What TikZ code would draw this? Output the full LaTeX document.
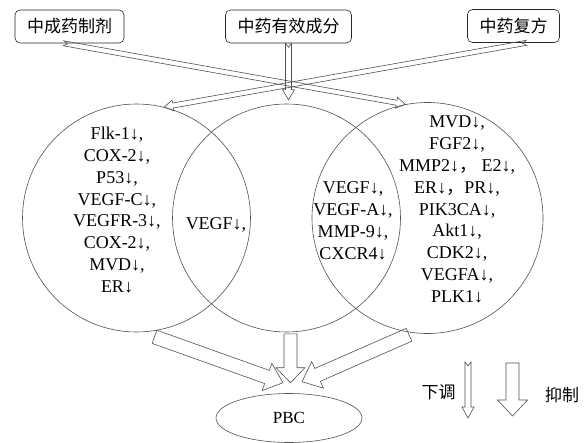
\documentclass[tikz,border=0pt]{standalone}
\usepackage{fontspec}
\setmainfont{Liberation Serif}
\newfontfamily\cjk{Noto Sans CJK SC}
\usepackage{tikz}
\usetikzlibrary{calc,shapes.geometric}
\definecolor{grislinea}{RGB}{80,80,80}

% flecha hueca: [estilo]{cola}{punta}{semiancho}{semiancho punta}{largo punta}{muesca}
\newcommand{\flechabloque}[7][]{%
  \path ($(#3)!#6!(#2)$) coordinate (fb-h);
  \draw[grislinea,line join=miter,#1]
    ($(#2)!#4!90:(#3)$) -- ($(fb-h)!#4!90:(#3)$) -- ($(fb-h)!#5!90:(#3)$) -- (#3)
    -- ($(fb-h)!#5!-90:(#3)$) -- ($(fb-h)!#4!-90:(#3)$) -- ($(#2)!#4!-90:(#3)$)
    -- ($(#2)!#7!(#3)$) -- cycle;}

\begin{document}
\begin{tikzpicture}[x=1pt, y=-1pt, line width=0.6pt,
    caja/.style={draw=black!85, rounded corners=5pt, minimum height=33pt,
      inner xsep=12pt, font=\cjk\fontsize{17}{20}\selectfont},
    circulo/.style={draw=grislinea, circle, inner sep=0pt, minimum size=228pt},
    lista/.style={align=center, inner sep=0pt, font=\fontsize{18}{21.8}\selectfont},
    leyenda/.style={inner sep=0pt, font=\cjk\fontsize{17}{20}\selectfont}]
  \useasboundingbox (0,0) rectangle (585,443);
  % cajas de arriba
  \node[caja] (zcy) at (69.5,26.5) {中成药制剂};
  \node[caja] (yxcf) at (288.5,26.5) {中药有效成分};
  \node[caja] (fufang) at (513.5,26) {中药复方};
  % los tres circulos
  \node[circulo] (izq) at (136.5,218) {};
  \node[circulo] (med) at (286.5,218) {};
  \node[circulo, minimum size=231pt] (der) at (427.5,218) {};
  % listas de dianas
  \node[lista] (tizq) at (117,210) {Flk-1↓,\\COX-2↓,\\P53↓,\\VEGF-C↓,\\VEGFR-3↓,\\COX-2↓,\\MVD↓,\\ER↓};
  \node[lista] (tim) at (216,225) {VEGF↓,};
  \node[lista] (tmd) at (353,221) {VEGF↓,\\VEGF-A↓,\\MMP-9↓,\\CXCR4↓};
  \node[lista] (tder) at (457,209.5) {MVD↓,\\FGF2↓,\\MMP2↓{\cjk ，}\ E2↓,\\ER↓{\cjk ，}PR↓,\\PIK3CA↓,\\Akt1↓,\\CDK2↓,\\VEGFA↓,\\PLK1↓};
  \node[draw=grislinea, ellipse, minimum width=146pt, minimum height=49pt, inner sep=0pt,
    font=\fontsize{17}{20}\selectfont] (pbc) at (289,418) {PBC};
  % flechas de arriba
  \coordinate (c1) at ($(zcy.south)+(-6,0)$);
  \coordinate (c3) at ($(fufang.south)+(13,0)$);
  \coordinate (p2) at ($(yxcf.south |- med.north)+(0,-4)$);
  \flechabloque{c1}{der.101}{2.5pt}{5.5pt}{9pt}{4pt}
  \flechabloque{c3}{izq.76}{2.5pt}{5.5pt}{9pt}{4pt}
  \flechabloque{yxcf.south}{p2}{3pt}{6pt}{10pt}{4pt}
  % flechas hacia PBC
  \coordinate (s1) at ($(izq.south)+(18,4.5)$);
  \coordinate (s2) at ($(med.south)+(4,1.5)$);
  \coordinate (s3) at ($(der.south)+(-18.5,1)$);
  \coordinate (q1) at ($(pbc.north)+(-6,-10.5)$);
  \coordinate (q2) at ($(pbc.north)+(1.5,-10.5)$);
  \coordinate (q3) at ($(pbc.north)+(13,-11.5)$);
  \flechabloque{s1}{q1}{7pt}{14.5pt}{17pt}{0pt}
  \flechabloque{s2}{q2}{6.5pt}{14.5pt}{15pt}{0pt}
  \flechabloque{s3}{q3}{7pt}{14.5pt}{17pt}{0pt}
  % leyenda
  \node[leyenda] (xt) at (438.5,392) {下调};
  \node[leyenda] (yz) at (562,395) {抑制};
  \coordinate (l1) at (468,362);
  \coordinate (l2) at (468,418);
  \coordinate (l3) at (512.5,363);
  \coordinate (l4) at (512.5,416);
  \flechabloque{l1}{l2}{3pt}{6pt}{11pt}{4pt}
  \flechabloque{l3}{l4}{6.5pt}{15pt}{16pt}{0pt}
\end{tikzpicture}
\end{document}
